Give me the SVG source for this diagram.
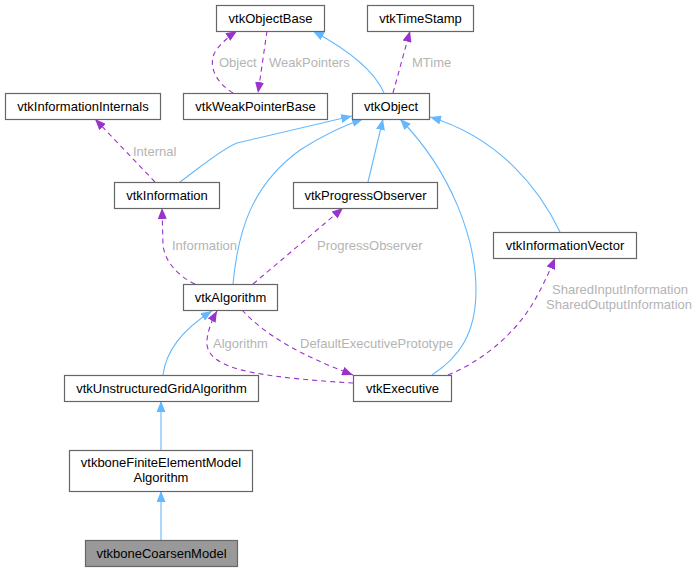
<svg xmlns="http://www.w3.org/2000/svg" width="697" height="571" viewBox="0 0 697 571">
<defs>
<style>
.node rect{fill:#ffffff;stroke:#666666;stroke-width:1.2}
.node.hl rect{fill:#999999}
.node text{font-family:"Liberation Sans",Arial,sans-serif;font-size:13px;fill:#000000;text-anchor:middle}
.inh{fill:none;stroke:#63b8ff;stroke-width:1.1;marker-end:url(#ab)}
.use{fill:none;stroke:#9a32cd;stroke-width:1.1;stroke-dasharray:5,4;marker-end:url(#ap)}
.lbl{font-family:"Liberation Sans",Arial,sans-serif;font-size:13px;fill:#b4b4b4}
</style>
<marker id="ab" viewBox="0 0 11 9" refX="11" refY="4.5" markerWidth="11" markerHeight="9" markerUnits="userSpaceOnUse" orient="auto"><path d="M0,0 L11,4.5 L0,9 z" fill="#63b8ff"/></marker>
<marker id="ap" viewBox="0 0 11 9" refX="11" refY="4.5" markerWidth="11" markerHeight="9" markerUnits="userSpaceOnUse" orient="auto"><path d="M0,0 L11,4.5 L0,9 z" fill="#9a32cd"/></marker>
</defs>
<rect width="697" height="571" fill="#ffffff"/>
<g id="connectors">
<path class="inh" d="M384,93 C375,72 352,52 313,31"/>
<path class="use" d="M393,93 L410,31"/>
<text class="lbl" x="412" y="67">MTime</text>
<path class="use" d="M233,93 C215,82 208,65 215,52 C220,44 228,37 237,31"/>
<text class="lbl" x="219" y="67">Object</text>
<path class="use" d="M267,31 L258,93"/>
<text class="lbl" x="269" y="67">WeakPointers</text>
<path class="use" d="M155,182 L95,119"/>
<text class="lbl" x="133" y="156">Internal</text>
<path class="inh" d="M180,182 C198,169 220,150 237,143 L352,116"/>
<path class="inh" d="M233,284 C238,230 252,185 300,150 C322,136 342,126 363,119"/>
<path class="inh" d="M368,182 L383,119"/>
<path class="inh" d="M432,375 C458,358 476,335 476,290 C476,240 452,172 400,119"/>
<path class="inh" d="M560,232 C540,190 500,138 430,117"/>
<path class="use" d="M195,284 C178,276 165,262 163,245 L162,208"/>
<text class="lbl" x="172" y="250">Information</text>
<path class="use" d="M253,284 L343,208"/>
<text class="lbl" x="317" y="250">ProgressObserver</text>
<path class="inh" d="M163,375 C166,350 185,328 212,311"/>
<path class="use" d="M353,383 C320,381 280,378 250,372 C220,366 205,355 207,340 C208,330 212,320 217,311"/>
<text class="lbl" x="213" y="348">Algorithm</text>
<path class="use" d="M242,310 C265,335 300,355 353,375"/>
<text class="lbl" x="300" y="348">DefaultExecutivePrototype</text>
<path class="use" d="M448,375 C480,362 510,338 530,308 C540,292 548,275 555,258"/>
<text class="lbl" x="620" y="294" text-anchor="middle">SharedInputInformation</text>
<text class="lbl" x="619" y="309" text-anchor="middle">SharedOutputInformation</text>
<path class="inh" d="M161,450 L161,401"/>
<path class="inh" d="M161,540 L161,491"/>
</g>
<g id="vtkObjectBase" class="node"><rect x="216.5" y="5.5" width="108" height="26"/><text x="270.5" y="23">vtkObjectBase</text></g>
<g id="vtkTimeStamp" class="node"><rect x="367.5" y="5.5" width="106" height="26"/><text x="420.5" y="23">vtkTimeStamp</text></g>
<g id="vtkInformationInternals" class="node"><rect x="5.5" y="93.5" width="155" height="26"/><text x="83" y="111">vtkInformationInternals</text></g>
<g id="vtkWeakPointerBase" class="node"><rect x="183.5" y="93.5" width="144" height="26"/><text x="255.5" y="111">vtkWeakPointerBase</text></g>
<g id="vtkObject" class="node"><rect x="352.5" y="93.5" width="77" height="26"/><text x="391" y="111">vtkObject</text></g>
<g id="vtkInformation" class="node"><rect x="114.5" y="182.5" width="105" height="26"/><text x="167" y="200">vtkInformation</text></g>
<g id="vtkProgressObserver" class="node"><rect x="293.5" y="182.5" width="144" height="26"/><text x="365.5" y="200">vtkProgressObserver</text></g>
<g id="vtkInformationVector" class="node"><rect x="493.5" y="232.5" width="143" height="26"/><text x="565" y="250">vtkInformationVector</text></g>
<g id="vtkAlgorithm" class="node"><rect x="183.5" y="284.5" width="94" height="26"/><text x="230.5" y="302">vtkAlgorithm</text></g>
<g id="vtkUnstructuredGridAlgorithm" class="node"><rect x="64.5" y="375.5" width="194" height="26"/><text x="161.5" y="393">vtkUnstructuredGridAlgorithm</text></g>
<g id="vtkExecutive" class="node"><rect x="353.5" y="375.5" width="98" height="26"/><text x="402.5" y="393">vtkExecutive</text></g>
<g id="vtkboneFiniteElementModelAlgorithm" class="node"><rect x="69.5" y="450.5" width="183" height="41"/><text x="161" y="467">vtkboneFiniteElementModel</text><text x="161" y="482">Algorithm</text></g>
<g id="vtkboneCoarsenModel" class="node hl"><rect x="85.5" y="540.5" width="152" height="26"/><text x="161.5" y="558">vtkboneCoarsenModel</text></g>
</svg>
